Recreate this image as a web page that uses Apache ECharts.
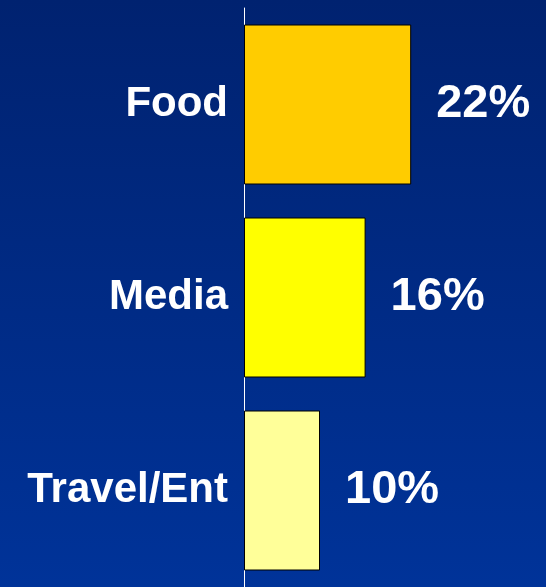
<!DOCTYPE html>
<html>
<head>
<meta charset="utf-8">
<script src="https://cdn.jsdelivr.net/npm/echarts@6/dist/echarts.min.js"></script>
<style>
  html, body { margin: 0; padding: 0; }
  #chart { width: 546px; height: 587px; }
</style>
</head>
<body>
<div id="chart"></div>
<script>
var categories = ['Food', 'Media', 'Travel/Ent'];
var values = [22, 16, 10];
var barColors = ['#FFCC00', '#FFFF00', '#FFFF99'];

var chart = echarts.init(document.getElementById('chart'));

var option = {
  backgroundColor: {
    type: 'linear', x: 0, y: 0, x2: 0, y2: 1,
    colorStops: [
      { offset: 0, color: '#002270' },
      { offset: 1, color: '#003399' }
    ]
  },
  grid: { left: 244, right: 74, top: 8, bottom: -4 },
  xAxis: {
    type: 'value',
    min: 0,
    max: 30,
    show: false
  },
  yAxis: {
    type: 'category',
    data: categories,
    inverse: true,
    axisLine: { show: true, lineStyle: { color: '#ffffff', width: 1 } },
    axisTick: { show: false },
    axisLabel: {
      color: '#ffffff',
      fontFamily: 'Liberation Sans, Arial, sans-serif',
      fontWeight: 'bold',
      fontSize: 42,
      margin: 16,
      padding: [4, 0, 0, 0]
    }
  },
  series: [{
    type: 'bar',
    barWidth: 160,
    data: values.map(function (v, i) {
      return { value: v, itemStyle: { color: barColors[i] } };
    }),
    itemStyle: { borderColor: '#000000', borderWidth: 1 },
    label: {
      show: true,
      position: 'right',
      distance: 25,
      formatter: '{c}%',
      color: '#ffffff',
      fontFamily: 'Liberation Sans, Arial, sans-serif',
      fontWeight: 'bold',
      fontSize: 47,
      padding: [4, 0, 0, 0]
    },
    animation: false
  }]
};

chart.setOption(option);
</script>
</body>
</html>
